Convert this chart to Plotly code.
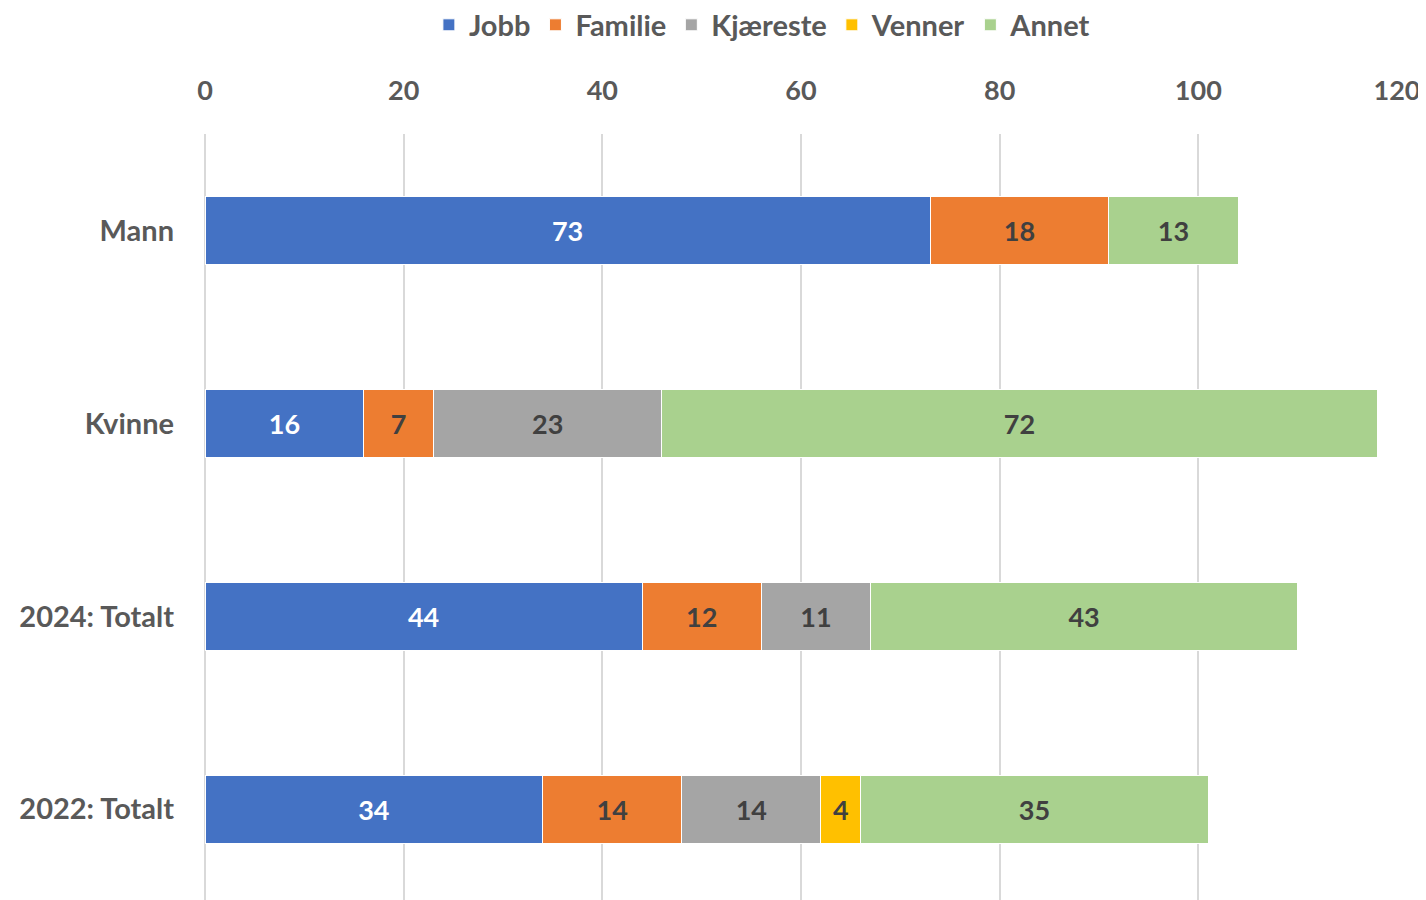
import plotly.graph_objects as go

categories = ["Mann", "Kvinne", "2024: Totalt", "2022: Totalt"]
series_names = ["Jobb", "Familie", "Kjæreste", "Venner", "Annet"]
jobb = [73, 16, 44, 34]
familie = [18, 7, 12, 14]
kjaereste = [None, 23, 11, 14]
venner = [None, None, None, 4]
annet = [13, 72, 43, 35]
x_ticks = [0, 20, 40, 60, 80, 100, 120]

values = [jobb, familie, kjaereste, venner, annet]
colors = ["#4472C4", "#ED7D31", "#A5A5A5", "#FFC000", "#A9D18E"]
label_colors = ["#FFFFFF", "#404040", "#404040", "#404040", "#404040"]

FONT = "Lato, 'Open Sans', sans-serif"

fig = go.Figure()
for name, vals, col, lc in zip(series_names, values, colors, label_colors):
    fig.add_trace(go.Bar(
        y=categories, x=vals, name=name, orientation="h",
        marker=dict(color=col, line=dict(color="#FFFFFF", width=1)),
        text=[str(v) if v is not None else "" for v in vals],
        textposition="inside", insidetextanchor="middle",
        textfont=dict(family=FONT, size=27, color=lc, weight="bold"),
        hoverinfo="x+name",
    ))

fig.update_layout(
    barmode="stack",
    bargap=0.65,
    width=1418, height=892,
    margin=dict(l=197, r=29, t=126, b=0),
    plot_bgcolor="white", paper_bgcolor="white",
    font=dict(family=FONT, color="#595959", size=26, weight="bold"),
    uniformtext=dict(mode=False),
    legend=dict(
        orientation="h", xref="container", yref="container",
        x=0.532, xanchor="center", y=0.981, yanchor="middle",
        font=dict(family=FONT, size=29, color="#595959", weight="bold"),
        traceorder="normal", itemwidth=30, bgcolor="rgba(0,0,0,0)",
    ),
    xaxis=dict(
        side="top", range=[0, 120], tickvals=x_ticks,
        showgrid=True, gridcolor="#D9D9D9", gridwidth=2,
        zeroline=True, zerolinecolor="#D9D9D9", zerolinewidth=2,
        showline=False, automargin=False,
        tickfont=dict(family=FONT, size=27, color="#595959", weight="bold"),
        ticklabelstandoff=28,
    ),
    yaxis=dict(
        type="category", categoryorder="array", categoryarray=categories,
        range=[3.47, -0.5], automargin=False,
        showgrid=False, zeroline=False, showline=False,
        tickfont=dict(family=FONT, size=29, color="#595959", weight="bold"),
        ticklabelstandoff=30,
    ),
)

fig.write_html("out.html")
